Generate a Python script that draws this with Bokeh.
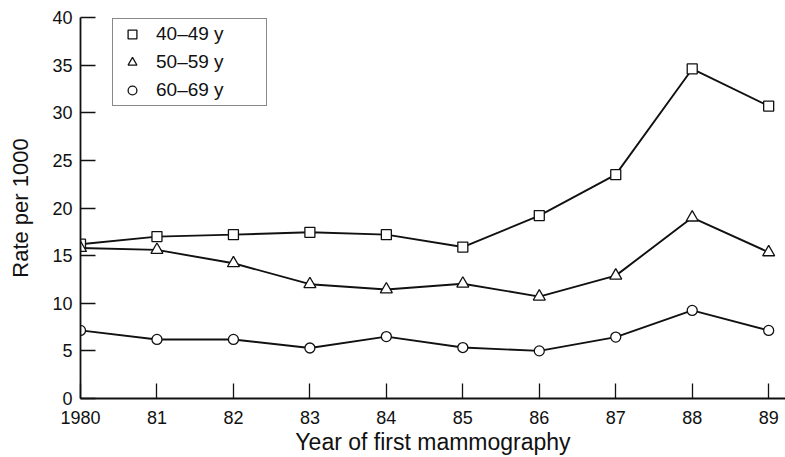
from bokeh.plotting import figure
from bokeh.models import Range1d, FixedTicker, Legend, LegendItem
from bokeh.embed import file_html
from bokeh.resources import INLINE

years = [1980, 1981, 1982, 1983, 1984, 1985, 1986, 1987, 1988, 1989]
tick_labels = ["1980", "81", "82", "83", "84", "85", "86", "87", "88", "89"]
rate_40_49 = [16.2, 17.0, 17.2, 17.45, 17.2, 15.9, 19.2, 23.5, 34.6, 30.7]
rate_50_59 = [15.8, 15.6, 14.2, 12.0, 11.45, 12.05, 10.7, 12.9, 19.0, 15.35]
rate_60_69 = [7.15, 6.2, 6.2, 5.3, 6.5, 5.35, 5.0, 6.45, 9.25, 7.15]
series_labels = ["40\u201349 y", "50\u201359 y", "60\u201369 y"]

FONT = "Liberation Sans"

p = figure(width=785, height=457, output_backend="svg", toolbar_location=None,
           x_range=Range1d(1980, 1989.22), y_range=Range1d(0, 40),
           min_border_left=80, min_border_right=0, min_border_top=17, min_border_bottom=57)
p.outline_line_color = None
p.xgrid.visible = False
p.ygrid.visible = False
p.background_fill_color = "white"
p.border_fill_color = "white"

for ax in (p.xaxis[0], p.yaxis[0]):
    ax.axis_line_width = 1.8
    ax.axis_line_color = "#111111"
    ax.major_tick_in = 15
    ax.major_tick_out = 0
    ax.major_tick_line_width = 1.3
    ax.major_tick_line_color = "#111111"
    ax.minor_tick_line_color = None
    ax.major_label_text_font = FONT
    ax.major_label_text_font_size = "18px"
    ax.major_label_text_color = "#111111"
    ax.axis_label_text_font = FONT
    ax.axis_label_text_font_style = "normal"
    ax.axis_label_text_color = "#111111"

p.xaxis.ticker = FixedTicker(ticks=years)
p.xaxis.major_label_overrides = {y: t for y, t in zip(years, tick_labels)}
p.xaxis.major_label_standoff = 12
p.xaxis.axis_label = "Year of first mammography"
p.xaxis.axis_label_text_font_size = "23px"
p.xaxis.axis_label_standoff = 2
p.yaxis.ticker = FixedTicker(ticks=[0, 5, 10, 15, 20, 25, 30, 35, 40])
p.yaxis.major_label_standoff = 8
p.yaxis.axis_label = "Rate per 1000"
p.yaxis.axis_label_text_font_size = "22px"
p.yaxis.axis_label_standoff = 16

markers = ["square", "triangle", "circle"]
sizes = [10, 12, 10]
items = []
for vals, m, s, lab in zip([rate_40_49, rate_50_59, rate_60_69], markers, sizes, series_labels):
    p.line(years, vals, line_color="#111111", line_width=1.9)
    r = p.scatter(years, vals, marker=m, size=s, fill_color="white",
                  line_color="#111111", line_width=1.3)
    items.append(LegendItem(label=lab, renderers=[r]))

legend = Legend(items=items, location="top_left")
legend.border_line_color = "#111111"
legend.border_line_width = 1.5
legend.background_fill_alpha = 1
legend.padding = 4
legend.margin = 0
legend.spacing = 6
legend.glyph_width = 30
legend.glyph_height = 22
legend.label_height = 22
legend.label_standoff = 9
legend.label_width = 106
legend.label_text_font = FONT
legend.label_text_font_size = "19px"
legend.label_text_color = "#111111"
p.add_layout(legend, "center")
legend.location = (32, 292)

open("out.html", "w").write(file_html(p, INLINE))
